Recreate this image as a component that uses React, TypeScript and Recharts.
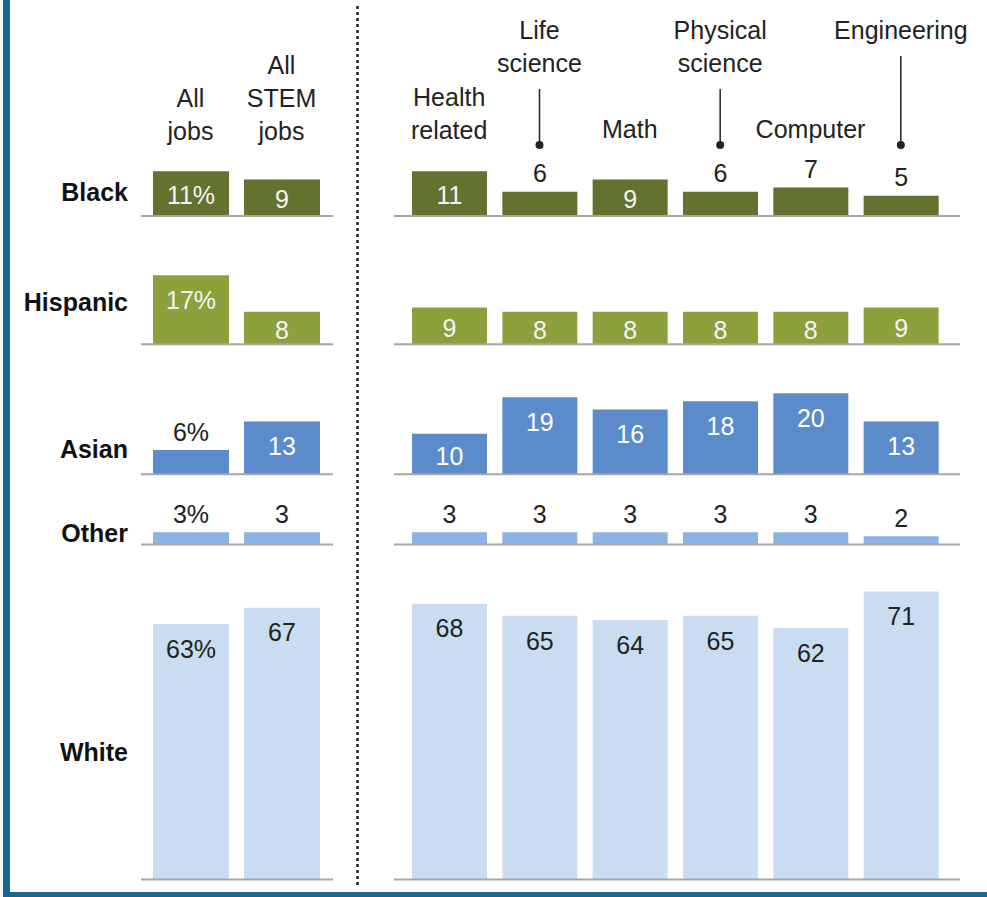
import { Bar, BarChart, LabelList, ReferenceLine, XAxis, YAxis } from 'recharts'

// Race/ethnicity share of jobs — small multiples: one row per group, left panel = all jobs vs STEM,
// right panel = STEM job clusters. Every row shares the same px-per-point scale (K).

const leftCategories = ['All jobs', 'All STEM jobs']
const rightCategories = ['Health related', 'Life science', 'Math', 'Physical science', 'Computer', 'Engineering']
const groups = ['Black', 'Hispanic', 'Asian', 'Other', 'White']

// values in category order: left two, then the six STEM clusters
const black = [11, 9, 11, 6, 9, 6, 7, 5]
const hispanic = [17, 8, 9, 8, 8, 8, 8, 9]
const asian = [6, 13, 10, 19, 16, 18, 20, 13]
const other = [3, 3, 3, 3, 3, 3, 3, 2]
const white = [63, 67, 68, 65, 64, 65, 62, 71]

const seriesByGroup = [black, hispanic, asian, other, white]

const FONT = "'Liberation Sans', Arial, sans-serif"
const K = 4.057

const rowLayout = [
  { baseline: 216, max: 16, labelY: 192, color: '#647230', inside: '#f4f4f4' },
  { baseline: 344, max: 20, labelY: 302, color: '#8ca03c', inside: '#f4f4f4' },
  { baseline: 474, max: 24, labelY: 449, color: '#5b8bcb', inside: '#ffffff' },
  { baseline: 544, max: 8, labelY: 533, color: '#8db3e2', inside: '#222' },
  { baseline: 880, max: 80, labelY: 752, color: '#c9dcf1', inside: '#222' },
]

const panels = [
  { cats: leftCategories, from: 0, left: 141, width: 192, pad: { left: 4, right: 6 }, barSize: 76, pct: true },
  { cats: rightCategories, from: 2, left: 394, width: 566, pad: { left: 10, right: 14 }, barSize: 75, pct: false },
]

// first header line (page y) per category; staggered ones get a leader down to the bar
const headerFirstLine: Record<string, number> = {
  'All jobs': 98,
  'All STEM jobs': 65,
  'Health related': 97,
  'Life science': 30,
  Math: 129,
  'Physical science': 30,
  Computer: 129,
  Engineering: 30,
}
const leadered = ['Life science', 'Physical science', 'Engineering']

function HeaderTick({ x, payload }: any) {
  const name: string = payload.value
  const words = name.split(' ')
  const y0 = headerFirstLine[name]
  const last = y0 + (words.length - 1) * 33
  return (
    <g>
      {words.map((w, i) => (
        <text key={w} x={x} y={y0 + i * 33} dy="0.35em" textAnchor="middle" fill="#222" fontSize={25}>
          {w}
        </text>
      ))}
      {leadered.includes(name) && (
        <>
          <line x1={x} x2={x} y1={last + 26} y2={145} stroke="#222" strokeWidth={1.5} />
          <circle cx={x} cy={145} r={4} fill="#222" />
        </>
      )}
    </g>
  )
}

const valueLabel = (inside: string, pct: boolean) => (props: any) => {
  const vb = props.viewBox ?? {}
  const x = props.x ?? vb.x
  const y = props.y ?? vb.y
  const w = props.width ?? vb.width
  const h = props.height ?? vb.height
  const top = Math.min(y, y + h)
  const hh = Math.abs(h)
  const v = Number(props.value)
  const text = pct && props.index === 0 ? `${v}%` : `${v}`
  const cx = x + w / 2
  if (v < 8) {
    return (
      <text x={cx} y={top - 18} dy="0.35em" textAnchor="middle" fill="#222" fontSize={25}>
        {text}
      </text>
    )
  }
  return (
    <text x={cx} y={top + Math.min(25, hh / 2 + 2)} dy="0.35em" textAnchor="middle" fill={inside} fontSize={25}>
      {text}
    </text>
  )
}

function RowChart({ row, panel, header }: { row: number; panel: (typeof panels)[number]; header: boolean }) {
  const lay = rowLayout[row]
  const values = seriesByGroup[row].slice(panel.from, panel.from + panel.cats.length)
  const data = panel.cats.map((name, i) => ({ name, value: values[i] }))
  const plotTop = lay.baseline - lay.max * K
  const marginTop = header ? 0 : 40
  const top = header ? 0 : plotTop - marginTop
  const height = lay.baseline + 3 - top

  return (
    <div style={{ position: 'absolute', left: panel.left, top }}>
      <BarChart
        width={panel.width + 30}
        height={height}
        data={data}
        margin={{ top: marginTop, right: 30, bottom: 3, left: 0 }}
      >
        <XAxis
          dataKey="name"
          orientation="top"
          hide={!header}
          height={header ? plotTop : 0}
          padding={panel.pad}
          axisLine={false}
          tickLine={false}
          interval={0}
          tick={HeaderTick}
        />
        <YAxis hide domain={[0, lay.max]} allowDataOverflow />
        <Bar dataKey="value" fill={lay.color} barSize={panel.barSize} isAnimationActive={false}>
          <LabelList dataKey="value" content={valueLabel(lay.inside, panel.pct)} />
        </Bar>
        <ReferenceLine y={0} stroke="#a6a6a6" strokeWidth={2} />
      </BarChart>
    </div>
  )
}

export default function App() {
  return (
    <div
      style={{
        position: 'absolute',
        left: 0,
        top: 0,
        width: 987,
        height: 897,
        background: '#fff',
        fontFamily: FONT,
        overflow: 'hidden',
      }}
    >
      {groups.map((g, r) => (
        <div
          key={g}
          style={{
            position: 'absolute',
            left: 0,
            width: 128,
            top: rowLayout[r].labelY - 15,
            height: 30,
            lineHeight: '30px',
            textAlign: 'right',
            fontWeight: 700,
            fontSize: 25,
            color: '#111',
          }}
        >
          {g}
        </div>
      ))}

      {groups.map((g, r) =>
        panels.map((p, pi) => <RowChart key={`${g}-${pi}`} row={r} panel={p} header={r === 0} />),
      )}

      <svg width={987} height={897} style={{ position: 'absolute', left: 0, top: 0, pointerEvents: 'none' }}>
        <line x1={357.5} x2={357.5} y1={6} y2={886} stroke="#222" strokeWidth={2.5} strokeDasharray="3 3" />
      </svg>

      <div style={{ position: 'absolute', left: 3, top: 0, width: 7, height: 897, background: '#17678f' }} />
      <div style={{ position: 'absolute', left: 3, top: 892, width: 984, height: 5, background: '#17678f' }} />
    </div>
  )
}
